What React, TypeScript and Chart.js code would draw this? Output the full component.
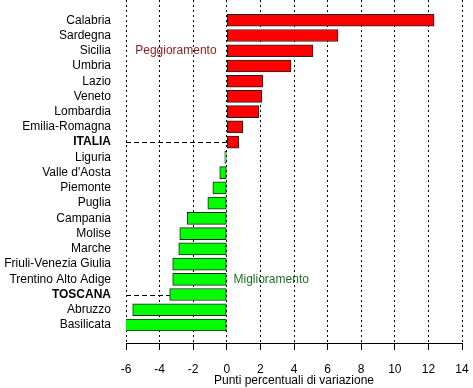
import React, { useEffect, useRef } from "react";
import { Chart, registerables } from "chart.js";

Chart.register(...registerables);

const regions = [
  "Calabria", "Sardegna", "Sicilia", "Umbria", "Lazio", "Veneto", "Lombardia",
  "Emilia-Romagna", "ITALIA", "Liguria", "Valle d'Aosta", "Piemonte", "Puglia",
  "Campania", "Molise", "Marche", "Friuli-Venezia Giulia", "Trentino Alto Adige",
  "TOSCANA", "Abruzzo", "Basilicata",
];
const values = [
  12.34, 6.62, 5.13, 3.82, 2.15, 2.09, 1.91, 0.95, 0.72, -0.12, -0.42, -0.83,
  -1.13, -2.36, -2.8, -2.86, -3.22, -3.22, -3.4, -5.6, -6.05,
];
const highlighted = ["ITALIA", "TOSCANA"];
const xTicks = [-6, -4, -2, 0, 2, 4, 6, 8, 10, 12, 14];
const notes = [
  { text: "Peggioramento", x: -5.45, row: "Sicilia", color: "#8b1c1c" },
  { text: "Miglioramento", x: 0.4, row: "Trentino Alto Adige", color: "#236e23" },
];
const xTitle = "Punti percentuali di variazione";

const FONT = "'Liberation Sans', Arial, sans-serif";
const Y_MIN = -1.33;
const Y_MAX = 21.18;

export default function App() {
  const ref = useRef<HTMLCanvasElement | null>(null);
  useEffect(() => {
    document.body.style.margin = "0";
    const canvas = ref.current!;
    const extras = {
      id: "extras",
      afterDatasetsDraw(chart: any) {
        const { ctx, scales } = chart;
        const xs = scales.x, ys = scales.y;
        ctx.save();
        ctx.strokeStyle = "#000";
        ctx.lineWidth = 1;
        ctx.setLineDash([5, 3]);
        highlighted.forEach((name) => {
          const i = regions.indexOf(name);
          const y = Math.round(ys.getPixelForValue(i)) + 0.5;
          const v = values[i];
          const x2 = xs.getPixelForValue(Math.min(v, 0));
          ctx.beginPath();
          ctx.moveTo(xs.getPixelForValue(xTicks[0]), y);
          ctx.lineTo(x2, y);
          ctx.stroke();
        });
        ctx.setLineDash([]);
        ctx.font = `12px ${FONT}`;
        ctx.textAlign = "left";
        ctx.textBaseline = "middle";
        notes.forEach((n) => {
          ctx.fillStyle = n.color;
          ctx.fillText(n.text, xs.getPixelForValue(n.x), ys.getPixelForValue(regions.indexOf(n.row)));
        });
        ctx.restore();
      },
    };
    const chart = new Chart(canvas, {
      type: "bar",
      data: {
        datasets: [
          {
            data: values.map((v, i) => ({ x: v, y: i })),
            backgroundColor: values.map((v) => (v >= 0 ? "#ff0000" : "#00ff00")),
            borderColor: "#222",
            borderWidth: 1,
            borderSkipped: false,
            barThickness: 12,
          },
        ],
      },
      options: {
        indexAxis: "y",
        animation: false,
        responsive: false,
        layout: { padding: { top: 0, right: 11, left: 0, bottom: 0 } },
        plugins: { legend: { display: false }, tooltip: { enabled: false } },
        scales: {
          x: {
            type: "linear",
            min: -6,
            max: 14,
            bounds: "data",
            offset: false,
            afterBuildTicks: (s: any) => {
              s.ticks = xTicks.map((v) => ({ value: v }));
              s.min = -6;
              s.max = 14;
            },
            afterFit: (s: any) => {
              s.height = 45;
              s.paddingLeft = 0;
              s.paddingRight = 0;
            },
            grid: { color: "#000", lineWidth: 1, tickLength: 7, tickColor: "#000", tickBorderDash: [], offset: false },
            border: { display: true, color: "#000", width: 1, dash: [2, 3] },
            ticks: { color: "#000", font: { family: FONT, size: 12 }, padding: 12, maxRotation: 0 },
            title: { display: true, text: xTitle, color: "#000", font: { family: FONT, size: 12 }, padding: { top: 0, bottom: 0 } },
          },
          y: {
            type: "linear",
            reverse: true,
            min: Y_MIN,
            max: Y_MAX,
            bounds: "data",
            offset: false,
            afterBuildTicks: (s: any) => {
              s.ticks = regions.map((_, i) => ({ value: i }));
              s.min = Y_MIN;
              s.max = Y_MAX;
            },
            afterFit: (s: any) => {
              s.width = 126;
              s.paddingTop = 0;
              s.paddingBottom = 0;
            },
            grid: { display: false, drawTicks: false, offset: false },
            border: { display: false },
            ticks: {
              padding: 15,
              color: "#000",
              autoSkip: false,
              callback: (v: any) => regions[v as number] ?? "",
              font: (c: any) => ({ family: FONT, size: 12, weight: highlighted.includes(regions[c.index]) ? "bold" : "normal" }),
            },
          },
        },
      },
      plugins: [extras],
    });
    return () => chart.destroy();
  }, []);
  return <canvas ref={ref} width={473} height={388} style={{ display: "block" }} />;
}
